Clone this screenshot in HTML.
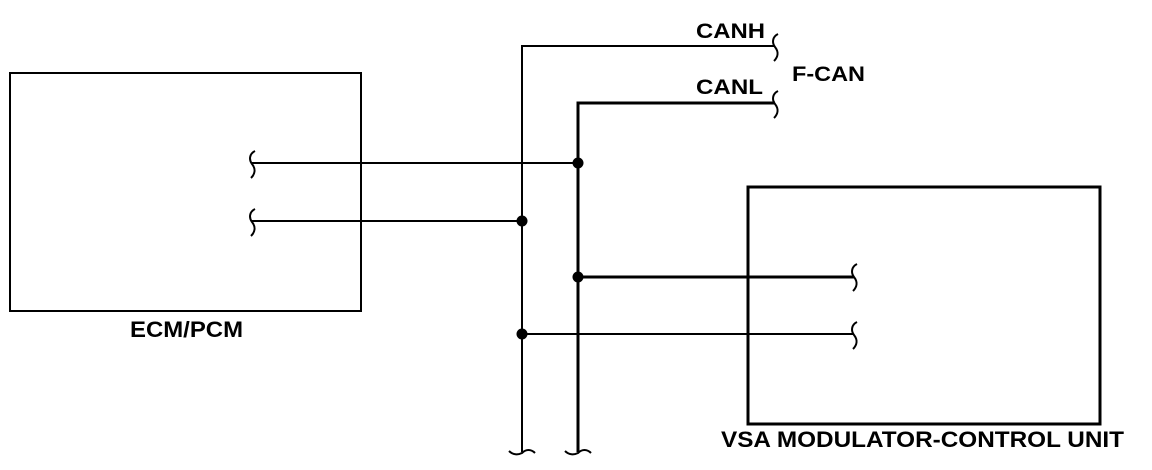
<!DOCTYPE html>
<html><head><meta charset="utf-8"><style>
html,body{margin:0;padding:0;background:#fff;}
svg{display:block;}
text{font-family:"Liberation Sans",Arial,sans-serif;font-weight:bold;fill:#000;}
</style></head><body>
<svg width="1152" height="470" viewBox="0 0 1152 470" xmlns="http://www.w3.org/2000/svg">
<defs>
<path id="sq" d="M3,-13 C-3,-10 -3,-4 0,0 C4,5 3,10 -1,14" fill="none" stroke="#000" stroke-width="2"/>
<path id="bq" d="M-13,-1 C-9,3 -4,3 0,1 C4,-3 9,-3 13,1" fill="none" stroke="#000" stroke-width="2"/>
</defs>
<g fill="none" stroke="#000">
<rect x="10" y="73" width="351" height="238" stroke-width="2"/>
<rect x="748" y="187" width="352" height="237" stroke-width="3"/>
<polyline points="522,452 522,46 775,46" stroke-width="2"/>
<polyline points="578,452 578,103 775,103" stroke-width="3"/>
<line x1="252" y1="163" x2="578" y2="163" stroke-width="2"/>
<line x1="252" y1="221" x2="522" y2="221" stroke-width="2"/>
<line x1="578" y1="277" x2="854" y2="277" stroke-width="3"/>
<line x1="522" y1="334" x2="854" y2="334" stroke-width="2"/>
</g>
<g fill="#000">
<circle cx="578" cy="163" r="5.5"/>
<circle cx="522" cy="221" r="5.5"/>
<circle cx="578" cy="277" r="5.5"/>
<circle cx="522" cy="334" r="5.5"/>
</g>
<use href="#sq" x="775" y="47"/>
<use href="#sq" x="775" y="104"/>
<use href="#sq" x="252" y="164"/>
<use href="#sq" x="252" y="222"/>
<use href="#sq" x="854" y="277"/>
<use href="#sq" x="854" y="335"/>
<use href="#bq" x="522" y="452"/>
<use href="#bq" x="578" y="452"/>
<text x="696" y="38" font-size="21" textLength="69" lengthAdjust="spacingAndGlyphs">CANH</text>
<text x="696" y="94" font-size="21" textLength="67" lengthAdjust="spacingAndGlyphs">CANL</text>
<text x="792" y="81" font-size="21" textLength="73" lengthAdjust="spacingAndGlyphs">F-CAN</text>
<text x="130" y="337" font-size="22" textLength="113" lengthAdjust="spacingAndGlyphs">ECM/PCM</text>
<text x="721" y="447" font-size="22" textLength="403" lengthAdjust="spacingAndGlyphs">VSA MODULATOR-CONTROL UNIT</text>
</svg>
</body></html>
